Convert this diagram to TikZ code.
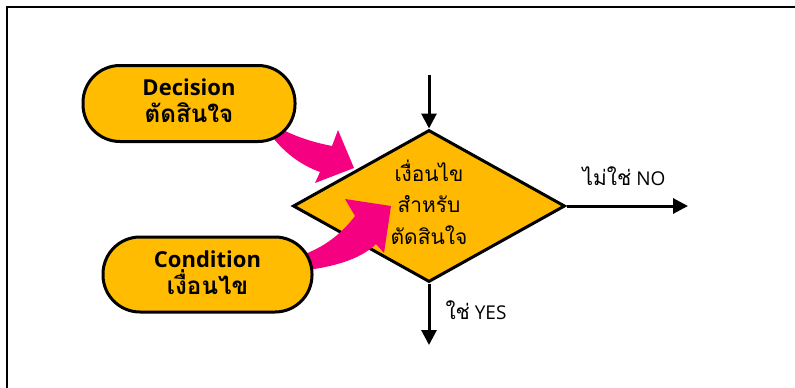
\documentclass[tikz,border=0pt]{standalone}
\usepackage{fontspec}
\setmainfont{Open Sans}
\newfontfamily\thai[Script=Thai,Scale=1.1]{Loma}
\usetikzlibrary{shapes.geometric,arrows.meta}
\definecolor{pillfill}{RGB}{255,188,0}
\definecolor{diafill}{RGB}{255,185,0}
\definecolor{pinkarrow}{RGB}{245,0,128}
\tikzset{
  pill/.style={draw=black,line width=3pt,fill=pillfill,rounded corners=37pt,inner sep=0pt},
  pilltext/.style={align=center,inner sep=0pt,font=\bfseries\fontsize{22}{27}\selectfont},
  flowline/.style={line width=3pt,-{Triangle[length=15pt,width=15pt]}},
  lbl/.style={font=\fontsize{19}{24}\selectfont,inner sep=0pt},
  blockarrow/.style={fill=pinkarrow,draw=none}
}
\begin{document}
\begin{tikzpicture}[x=1pt,y=-1pt]
\useasboundingbox (0,0) rectangle (795,388);
\fill[white] (0,0) rectangle (795,388);
\draw[line width=2.2pt] (7,390) -- (7,7) -- (797,7);
% decision block arrow (under diamond)
\fill[blockarrow] (262,118) .. controls (290,136) and (312,142) .. (332,146)
  -- (338,130) -- (354,168) -- (315,183) -- (320,172)
  .. controls (298,164) and (282,150) .. (270,134) -- cycle;
% diamond
\node[diamond,draw=black,line width=3pt,fill=diafill,minimum width=272pt,
  minimum height=152pt,inner sep=0pt] (dia) at (429,206) {};
\node[align=center,inner sep=0pt,font=\thai\fontsize{19}{31.5}\selectfont]
  (diatext) at ([yshift=4pt]dia.center) {เงื่อนไข\\สำหรับ\\ตัดสินใจ};
% condition block arrow (over diamond)
\fill[blockarrow] (298,271) .. controls (330,268) and (360,260) .. (376,244)
  -- (384,253) -- (391,206) -- (345,199) -- (355,216)
  .. controls (340,236) and (320,250) .. (296,257) -- cycle;
% pills
\node[pill,minimum width=212pt,minimum height=76pt] (dec) at (189,103.5) {};
\node[pilltext] (dectext) at ([yshift=3pt]dec.center) {Decision\\{\thai ตัดสินใจ}};
\node[pill,minimum width=209pt,minimum height=75pt] (cond) at (207.5,274.5) {};
\node[pilltext] (condtext) at ([yshift=2pt]cond.center) {Condition\\{\thai เงื่อนไข}};
% flow lines
\coordinate (topin) at (429,75);
\coordinate (noend) at (688,206);
\coordinate (yesend) at (429,345);
\draw[flowline] (topin) -- (dia.north);
\draw[flowline] (dia.east) -- (noend);
\draw[flowline] (dia.south) -- (yesend);
\node[lbl] (nolbl) at (624,176) {{\thai ไม่ใช่} NO};
\node[lbl] (yeslbl) at (476,310) {{\thai ใช่} YES};
\end{tikzpicture}
\end{document}
